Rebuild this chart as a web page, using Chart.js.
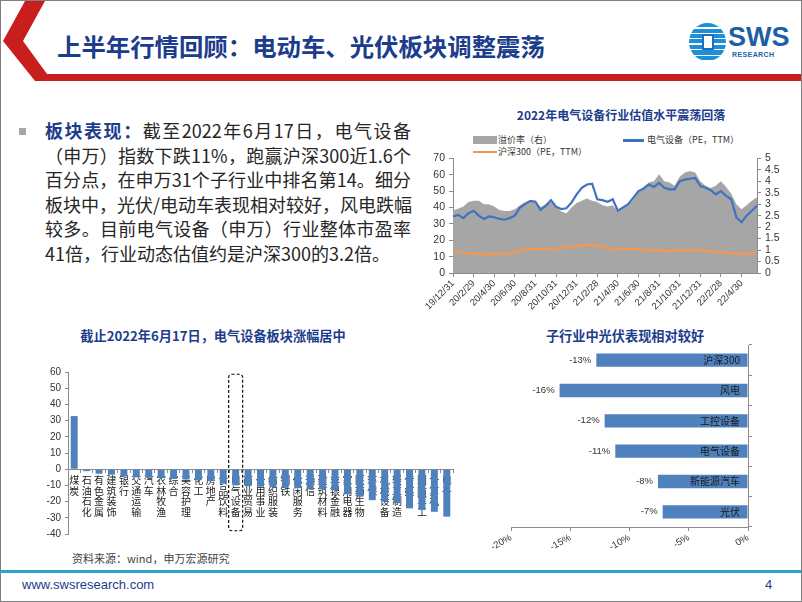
<!DOCTYPE html>
<html lang="zh-CN">
<head>
<meta charset="utf-8">
<title>上半年行情回顾</title>
<script src="https://cdn.jsdelivr.net/npm/chart.js@4.4.1/dist/chart.umd.min.js"></script>
<style>
  body { margin: 0; background: #fff; }
  #slide { position: relative; width: 800px; height: 600px; border: 1px solid #808080; overflow: hidden; background: #fff;
           font-family: "Noto Sans CJK SC", "Liberation Sans", sans-serif; color: #262626; }
  .abs { position: absolute; }
  #title { left: 56px; top: 29px; font-size: 24.4px; font-weight: 700; color: #1c3c8c; white-space: nowrap; line-height: 32px; }
  #logo-mark { left: 688px; top: 22px; width: 37px; height: 38px; border-radius: 50%;
               background: repeating-linear-gradient(to bottom, #1b8fd8 0 4px, #fff 4px 5.5px); }
  #logo-mark div { position: absolute; left: 13px; top: 11px; width: 12px; height: 16px; background: #fff; border: 2px solid #1b6fc0; box-sizing: border-box; }
  #logo-sws { left: 727px; top: 21px; font: 700 27px/30px "Liberation Sans", sans-serif; color: #1d5fa6; }
  #logo-res { left: 731px; top: 50px; font: 700 7px/8px "Liberation Sans", sans-serif; color: #1d5fa6; letter-spacing: 0.4px; }
  #bullet { left: 18px; top: 127px; width: 7px; height: 7px; background: #a6a6a6; }
  #body { left: 44px; top: 117px; width: 366px; font-size: 18px; line-height: 24.6px; color: #262626; }
  #body div { white-space: nowrap; text-align: justify; text-align-last: justify; text-justify: inter-character; }
  #body b { color: #1c3c8c; }
  .ctitle { font-weight: 700; color: #1c3c8c; text-align: center; white-space: nowrap; }
  .leg { font-size: 9px; line-height: 10px; color: #333; white-space: nowrap; }
  #footline { left: 0; top: 569px; width: 800px; height: 3px; background: #2aa3cc; }
  #url { left: 21px; top: 576px; font: 13px/16px "Liberation Sans", sans-serif; color: #1c3c8c; }
  #page { left: 764px; top: 576px; font: 13px/16px "Liberation Sans", sans-serif; color: #1c3c8c; }
  #source { left: 71px; top: 550px; font-size: 11px; line-height: 14px; color: #444; }
  canvas { position: absolute; }
</style>
</head>
<body>
<div id="slide">
  <svg class="abs" style="left:0;top:0" width="800" height="90">
    <polygon points="24,0 44,0 22,40 46,73 800,73 800,80 34,80 2,40" fill="#c81e1e"/>
  </svg>
  <div class="abs" id="title">上半年行情回顾：电动车、光伏板块调整震荡</div>
  <div class="abs" id="logo-mark"><div></div></div>
  <div class="abs" id="logo-sws">SWS</div>
  <div class="abs" id="logo-res">RESEARCH</div>

  <div class="abs" id="bullet"></div>
  <div class="abs" id="body">
    <div><b>板块表现：</b>截至2022年6月17日，电气设备</div>
    <div>（申万）指数下跌11%，跑赢沪深300近1.6个</div>
    <div>百分点，在申万31个子行业中排名第14。细分</div>
    <div>板块中，光伏/电动车表现相对较好，风电跌幅</div>
    <div>较多。目前电气设备（申万）行业整体市盈率</div>
    <div style="text-align-last:left">41倍，行业动态估值约是沪深300的3.2倍。</div>
  </div>

  <div class="abs ctitle" style="left:420px;top:106px;width:400px;font-size:12px;line-height:15px;">2022年电气设备行业估值水平震荡回落</div>
  <div class="abs" style="left:472px;top:135px;width:24px;height:8px;background:#a6a6a6;"></div>
  <div class="abs leg" style="left:497px;top:134px;">溢价率（右）</div>
  <div class="abs" style="left:622px;top:138px;width:21px;height:2.5px;background:#3f72c0;"></div>
  <div class="abs leg" style="left:646px;top:134px;">电气设备（PE，TTM）</div>
  <div class="abs" style="left:472px;top:149.5px;width:24px;height:2.5px;background:#f7964a;"></div>
  <div class="abs leg" style="left:497px;top:145.5px;">沪深300（PE，TTM）</div>
  <canvas id="peChart" width="382" height="165" style="left:419px;top:147px;"></canvas>

  <div class="abs ctitle" style="left:12px;top:326px;width:400px;font-size:13.2px;line-height:17px;">截止2022年6月17日，电气设备板块涨幅居中</div>
  <canvas id="industryChart" width="420" height="200" style="left:39px;top:344px;"></canvas>

  <div class="abs ctitle" style="left:474px;top:326px;width:300px;font-size:13.2px;line-height:17px;">子行业中光伏表现相对较好</div>
  <canvas id="subChart" width="300" height="212" style="left:479px;top:339px;"></canvas>

  <div class="abs" id="source">资料来源：wind，申万宏源研究</div>
  <div class="abs" id="footline"></div>
  <div class="abs" id="url">www.swsresearch.com</div>
  <div class="abs" id="page">4</div>
</div>

<script>
// 估值走势 (半月度)
var peDates = ['19/12/31','20/1/15','20/1/31','20/2/14','20/2/29','20/3/13','20/3/31','20/4/15','20/4/30','20/5/15',
  '20/5/29','20/6/15','20/6/30','20/7/15','20/7/31','20/8/14','20/8/31','20/9/15','20/9/30','20/10/15',
  '20/10/31','20/11/13','20/11/30','20/12/15','20/12/31','21/1/15','21/1/29','21/2/10','21/2/28','21/3/15',
  '21/3/31','21/4/15','21/4/30','21/5/14','21/5/31','21/6/15','21/6/30','21/7/15','21/7/30','21/8/13',
  '21/8/31','21/9/15','21/9/30','21/10/15','21/10/31','21/11/15','21/11/30','21/12/15','21/12/31','22/1/14',
  '22/1/28','22/2/15','22/2/28','22/3/15','22/3/31','22/4/15','22/4/30','22/5/16','22/5/31','22/6/17'];
var elecPE = [34.5, 35.5, 33.5, 36.5, 38.0, 35.0, 33.0, 34.5, 34.0, 33.0,
  32.5, 33.5, 35.0, 40.0, 42.0, 44.0, 43.5, 38.5, 41.0, 44.5,
  40.5, 39.0, 39.5, 43.0, 48.0, 52.0, 54.0, 54.5, 45.0, 44.5,
  43.5, 45.0, 38.0, 40.0, 42.0, 46.0, 50.0, 51.5, 54.0, 52.5,
  55.0, 52.0, 51.0, 51.0, 56.0, 57.0, 57.5, 58.0, 53.0, 52.0,
  50.5, 48.0, 50.0, 47.0, 45.0, 34.0, 31.0, 35.0, 38.0, 41.0];
var hs300PE = [12.5, 12.8, 12.2, 12.0, 12.3, 11.8, 11.2, 11.5, 11.8, 11.6,
  11.8, 12.0, 12.6, 14.0, 14.4, 14.6, 14.8, 14.5, 14.6, 14.9,
  15.0, 15.2, 15.5, 16.0, 16.3, 16.9, 17.2, 17.0, 16.6, 15.9,
  15.4, 15.0, 14.6, 14.8, 14.9, 14.7, 14.5, 14.0, 13.8, 13.7,
  13.6, 13.6, 13.5, 13.6, 13.7, 13.8, 13.9, 13.9, 13.8, 13.6,
  13.2, 12.9, 12.9, 12.4, 12.0, 11.8, 11.5, 11.7, 12.0, 12.4];
var premium = [2.73, 2.80, 2.90, 3.10, 3.15, 3.15, 3.00, 3.00, 2.90, 2.75,
  2.70, 2.70, 2.78, 2.95, 3.10, 3.15, 3.10, 2.88, 3.00, 3.10,
  2.90, 2.68, 2.60, 2.85, 3.05, 3.15, 3.25, 3.15, 3.10, 2.95,
  2.90, 2.95, 2.68, 2.80, 2.95, 3.20, 3.55, 3.75, 3.95, 4.00,
  4.30, 4.00, 3.95, 3.80, 4.20, 4.38, 4.45, 4.38, 4.00, 3.80,
  3.70, 3.80, 4.00, 3.75, 3.45, 3.00, 2.78, 2.95, 3.15, 3.30];

// 申万一级行业涨跌幅 (%)
var industryNames = ['煤炭','石油石化','有色金属','建筑装饰','银行','交通运输','汽车','农林牧渔','综合','美容护理',
  '化工','房地产','食品饮料','电气设备','商业贸易','公用事业','纺织服装','钢铁','休闲服务','通信',
  '建筑材料','非银金融','家用电器','医药生物','环保','机械设备','轻工制造','传媒','国防军工','计算机','电子'];
var industryChange = [32.8, -1.2, -2.8, -3.4, -4.5, -5.0, -5.3, -5.6, -6.0, -6.3,
  -6.8, -7.4, -8.8, -10.0, -10.5, -10.8, -11.1, -11.4, -11.7, -12.0,
  -12.5, -13.0, -15.5, -17.0, -19.1, -20.0, -21.0, -24.2, -25.2, -26.3, -29.3];
var highlightName = '电气设备';

// 子行业涨跌幅 (%)
var subNames = ['沪深300','风电','工控设备','电气设备','新能源汽车','光伏'];
var subChange = [-12.8, -15.9, -12.1, -11.2, -7.6, -7.2];

Chart.defaults.font.family = '"Liberation Sans", "Noto Sans CJK SC", sans-serif';
Chart.defaults.color = '#333';
var axisGray = '#8c8c8c';

new Chart(document.getElementById('peChart'), {
  type: 'line',
  data: {
    labels: peDates,
    datasets: [
      { label: '电气设备（PE，TTM）', data: elecPE, yAxisID: 'y', borderColor: '#3f72c0', borderWidth: 2.2, pointRadius: 0, order: 1 },
      { label: '沪深300（PE，TTM）', data: hs300PE, yAxisID: 'y', borderColor: '#f7964a', borderWidth: 2.2, pointRadius: 0, order: 2 },
      { label: '溢价率（右）', data: premium, yAxisID: 'y1', backgroundColor: '#a6a6a6', borderWidth: 0, pointRadius: 0, fill: 'origin', order: 3 }
    ]
  },
  options: {
    responsive: false,
    animation: false,
    layout: { padding: { top: 9 } },
    plugins: { legend: { display: false }, tooltip: { enabled: false } },
    scales: {
      x: {
        grid: { drawOnChartArea: false, tickLength: 4, color: axisGray },
        border: { color: axisGray },
        ticks: { autoSkip: false, minRotation: 45, maxRotation: 45, padding: 1, font: { size: 9.5 } },
        afterBuildTicks: function(s) { s.ticks = s.ticks.filter(function(t) { return t.value % 4 === 0; }); },
        afterFit: function(s) { s.height = 40; }
      },
      y: {
        position: 'left', min: 0, max: 70,
        grid: { drawOnChartArea: false, tickLength: 4, color: axisGray },
        border: { color: axisGray },
        ticks: { stepSize: 10, padding: 4, autoSkip: false, font: { size: 10.5 } },
        afterFit: function(s) { s.width = 33; }
      },
      y1: {
        position: 'right', min: 0, max: 5,
        grid: { drawOnChartArea: false, tickLength: 4, color: axisGray },
        border: { color: axisGray },
        ticks: { stepSize: 0.5, padding: 4, autoSkip: false, font: { size: 10.5 },
                 callback: function(v) { return String(v); } },
        afterFit: function(s) { s.width = 45; }
      }
    }
  }
});

// 虚线框标出电气设备
var highlightBox = {
  id: 'highlightBox',
  afterDraw: function(chart) {
    var ctx = chart.ctx, x = chart.scales.x, y = chart.scales.y;
    var cx = x.getPixelForValue(industryNames.indexOf(highlightName));
    var top = y.getPixelForValue(58.6), bottom = y.getPixelForValue(-38);
    ctx.save();
    ctx.setLineDash([3, 2]);
    ctx.strokeStyle = '#111';
    ctx.lineWidth = 1.2;
    ctx.beginPath();
    ctx.roundRect(cx - 7, top, 14, bottom - top, 3);
    ctx.stroke();
    ctx.restore();
  }
};

new Chart(document.getElementById('industryChart'), {
  type: 'bar',
  data: {
    labels: industryNames.map(function(n) { return n.split(''); }),
    datasets: [{ data: industryChange, backgroundColor: '#4f81bd', categoryPercentage: 1, barPercentage: 0.56 }]
  },
  options: {
    responsive: false,
    animation: false,
    layout: { padding: { top: 27, right: 7, bottom: 11 } },
    plugins: { legend: { display: false }, tooltip: { enabled: false } },
    scales: {
      x: {
        position: { y: 0 },
        z: 1,
        grid: { drawOnChartArea: false, offset: true, tickLength: 3, color: axisGray },
        border: { color: axisGray },
        ticks: { autoSkip: false, maxRotation: 0, padding: 4, color: '#1a1a1a', font: { size: 10, lineHeight: 1.05 } }
      },
      y: {
        min: -40, max: 60,
        grid: { drawOnChartArea: false, tickLength: 3, color: axisGray },
        border: { color: axisGray },
        ticks: { stepSize: 10, padding: 4, font: { size: 10 } },
        afterFit: function(s) { s.width = 28; }
      }
    }
  },
  plugins: [highlightBox]
});

// 条形数值与行业名
var subLabels = {
  id: 'subLabels',
  afterDatasetsDraw: function(chart) {
    var ctx = chart.ctx, zero = chart.scales.x.getPixelForValue(0);
    ctx.save();
    ctx.textBaseline = 'middle';
    ctx.textAlign = 'right';
    chart.getDatasetMeta(0).data.forEach(function(bar, i) {
      ctx.font = '9.5px "Liberation Sans", "Noto Sans CJK SC", sans-serif';
      ctx.fillStyle = '#333';
      ctx.fillText(Math.round(subChange[i]) + '%', bar.x - 5, bar.y);
      ctx.font = '10px "Noto Sans CJK SC", sans-serif';
      ctx.fillStyle = '#1a1a1a';
      ctx.fillText(subNames[i], zero - 8, bar.y);
    });
    ctx.restore();
  }
};

new Chart(document.getElementById('subChart'), {
  type: 'bar',
  data: {
    labels: subNames,
    datasets: [{ data: subChange, backgroundColor: '#4f81bd', categoryPercentage: 1, barPercentage: 0.44 }]
  },
  options: {
    indexAxis: 'y',
    responsive: false,
    animation: false,
    layout: { padding: { top: 5, left: 31 } },
    plugins: { legend: { display: false }, tooltip: { enabled: false } },
    scales: {
      x: {
        min: -20, max: 0,
        grid: { drawOnChartArea: false, tickLength: 4, color: axisGray },
        border: { color: axisGray },
        ticks: { stepSize: 5, minRotation: 30, maxRotation: 30, padding: 1, font: { size: 9.5 },
                 callback: function(v) { return v + '%'; } },
        afterFit: function(s) { s.height = 25; }
      },
      y: {
        position: 'right',
        grid: { drawOnChartArea: false, offset: true, tickLength: 4, color: axisGray },
        border: { color: axisGray },
        ticks: { display: false },
        afterFit: function(s) { s.width = 32; }
      }
    }
  },
  plugins: [subLabels]
});
</script>
</body>
</html>
